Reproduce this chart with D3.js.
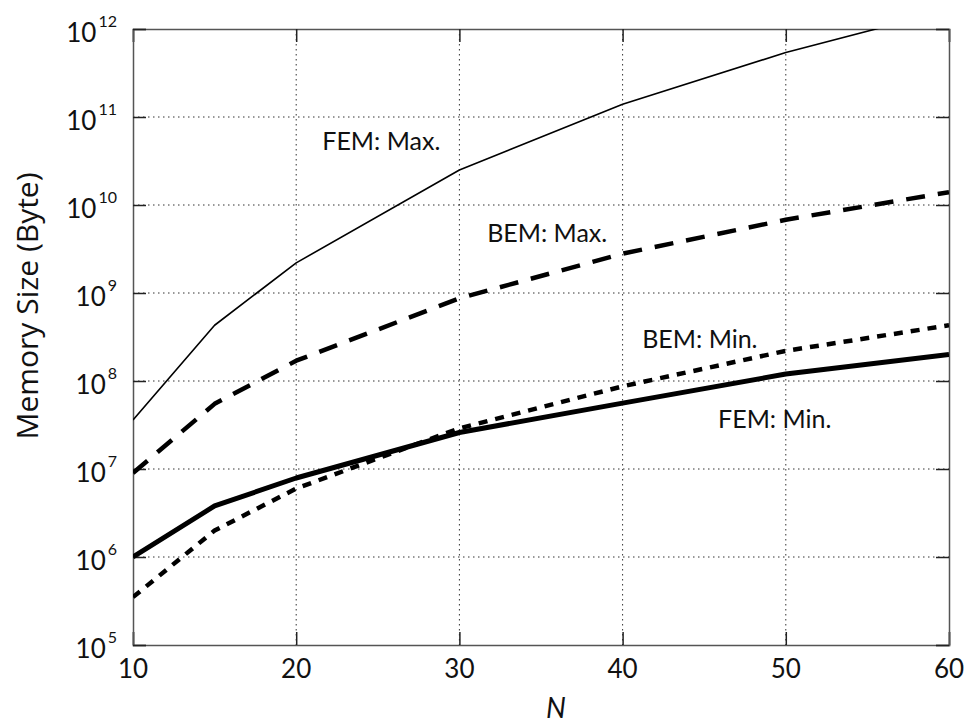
<!DOCTYPE html>
<html>
<head>
<meta charset="utf-8">
<script src="https://cdn.jsdelivr.net/npm/d3@7"></script>
<style>
  body { margin: 0; background: #fff; }
  text { font-family: Lato, "Open Sans", sans-serif; fill: #111; }
</style>
</head>
<body>
<script>
// Memory size vs N, log scale
const N = [10, 15, 20, 30, 40, 50, 60];
const femMax = [3.6e7, 4.3e8, 2.2e9, 2.5e10, 1.4e11, 5.4e11, 1.65e12];
const bemMax = [9e6, 5.5e7, 1.7e8, 8.7e8, 2.8e9, 6.8e9, 1.4e10];
const femMin = [1e6, 3.8e6, 7.9e6, 2.6e7, 5.6e7, 1.2e8, 2.0e8];
const bemMin = [3.5e5, 2e6, 6e6, 2.9e7, 8.7e7, 2.2e8, 4.3e8];

const xTicks = [10, 20, 30, 40, 50, 60];
const yExponents = [5, 6, 7, 8, 9, 10, 11, 12];

// label anchors in data units (left end of the text, baseline)
const labels = [
    { text: "FEM: Max.", n: 21.6, v: 4.2e10 },
    { text: "BEM: Max.", n: 31.7, v: 3.8e9 },
    { text: "BEM: Min.", n: 41.2, v: 2.4e8 },
    { text: "FEM: Min.", n: 45.85, v: 2.9e7 }
];

const svgWidth = 973;
const svgHeight = 727;

const margin = { top: 29, right: 24, bottom: 82, left: 133 };
const width = svgWidth - margin.left - margin.right;
const height = svgHeight - margin.top - margin.bottom;

let svg = d3.select("body")
    .append("svg")
    .attr("width", svgWidth)
    .attr("height", svgHeight);

let chartGroup = svg.append("g")
    .attr("transform", `translate(${margin.left}, ${margin.top})`);

const x = d3.scaleLinear().domain([10, 60]).range([0, width]);
const y = d3.scaleLog().domain([1e5, 1e12]).range([height, 0]);

// clip so the FEM max line stops at the frame
chartGroup.append("clipPath")
    .attr("id", "clip")
    .append("rect")
    .attr("width", width)
    .attr("height", height);

// dotted grid
chartGroup.append("g")
    .selectAll("line")
    .data(xTicks.slice(1, -1))
    .enter()
    .append("line")
    .attr("x1", d => x(d)).attr("x2", d => x(d))
    .attr("y1", 0).attr("y2", height)
    .attr("stroke", "#333")
    .attr("stroke-width", 1)
    .attr("stroke-dasharray", "1.5,3.5");

chartGroup.append("g")
    .selectAll("line")
    .data(yExponents.slice(1, -1))
    .enter()
    .append("line")
    .attr("x1", 0).attr("x2", width)
    .attr("y1", d => y(Math.pow(10, d))).attr("y2", d => y(Math.pow(10, d)))
    .attr("stroke", "#333")
    .attr("stroke-width", 1)
    .attr("stroke-dasharray", "1.5,3.5");

// axes with inward ticks on all four sides
const bottomAxis = d3.axisBottom(x).tickValues(xTicks).tickSize(-13).tickFormat("");
const topAxis = d3.axisTop(x).tickValues(xTicks).tickSize(-13).tickFormat("");
const leftAxis = d3.axisLeft(y).tickValues(yExponents.map(e => Math.pow(10, e))).tickSize(-13).tickFormat("");
const rightAxis = d3.axisRight(y).tickValues(yExponents.map(e => Math.pow(10, e))).tickSize(-13).tickFormat("");

chartGroup.append("g").attr("transform", `translate(0, ${height})`).call(bottomAxis);
chartGroup.append("g").call(topAxis);
chartGroup.append("g").call(leftAxis);
chartGroup.append("g").attr("transform", `translate(${width}, 0)`).call(rightAxis);

chartGroup.selectAll(".domain").attr("stroke", "#555").attr("stroke-width", 1.5);
chartGroup.selectAll(".tick line").attr("stroke", "#222").attr("stroke-width", 1.5);

// x tick labels
chartGroup.append("g")
    .selectAll("text")
    .data(xTicks)
    .enter()
    .append("text")
    .attr("x", d => x(d))
    .attr("y", height + 33)
    .attr("text-anchor", "middle")
    .attr("font-size", "26px")
    .text(d => d);

// y tick labels as 10 with superscript
let yLabels = chartGroup.append("g")
    .selectAll("text")
    .data(yExponents)
    .enter()
    .append("text")
    .attr("x", -16)
    .attr("y", d => y(Math.pow(10, d)) + 13)
    .attr("text-anchor", "end")
    .attr("font-size", "26px");

yLabels.append("tspan").text("10");
yLabels.append("tspan")
    .attr("dx", 2)
    .attr("dy", -15)
    .attr("font-size", "16px")
    .text(d => d);

// series lines
const series = [
    { values: femMax, width: 1.6, dash: null },
    { values: bemMax, width: 4.5, dash: "19,13" },
    { values: femMin, width: 5, dash: null },
    { values: bemMin, width: 4.5, dash: "9,8" }
];

const line = d3.line()
    .x(d => x(d[0]))
    .y(d => y(d[1]));

chartGroup.append("g")
    .attr("clip-path", "url(#clip)")
    .selectAll("path")
    .data(series)
    .enter()
    .append("path")
    .attr("d", s => line(N.map((n, i) => [n, s.values[i]])))
    .attr("fill", "none")
    .attr("stroke", "#000")
    .attr("stroke-width", s => s.width)
    .attr("stroke-dasharray", s => s.dash)
    .attr("stroke-linejoin", "round");

// series labels
chartGroup.append("g")
    .selectAll("text")
    .data(labels)
    .enter()
    .append("text")
    .attr("x", d => x(d.n))
    .attr("y", d => y(d.v))
    .attr("font-size", "25px")
    .text(d => d.text);

// axis titles
chartGroup.append("text")
    .attr("transform", "rotate(-90)")
    .attr("x", -(306 - margin.top))
    .attr("y", 38 - margin.left)
    .attr("text-anchor", "middle")
    .style("font-family", "'Open Sans', sans-serif")
    .attr("font-size", "30px")
    .text("Memory Size (Byte)");

chartGroup.append("text")
    .attr("x", 556 - margin.left)
    .attr("y", 718 - margin.top)
    .attr("text-anchor", "middle")
    .attr("font-size", "28px")
    .attr("font-style", "italic")
    .text("N");
</script>
</body>
</html>
